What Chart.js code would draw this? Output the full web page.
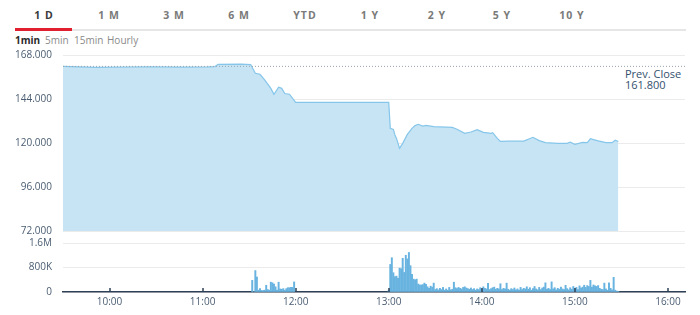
<!DOCTYPE html>
<html>
<head>
<meta charset="utf-8">
<script src="https://cdn.jsdelivr.net/npm/chart.js@4.4.0/dist/chart.umd.min.js"></script>
<style>
    body { margin:0; background:#fff; font-family:"Open Sans", sans-serif; }
    #wrap { position:relative; width:700px; height:315px; overflow:hidden; }
    .tab { position:absolute; top:8px; font-size:10.5px; font-weight:bold; color:#7a7a7a; letter-spacing:1px; transform:translateX(-50%); }
    .tab.on { color:#3a3a3a; }
    .sub { position:absolute; top:33px; font-size:10px; color:#8a8a8a; }
    .sub.on { color:#2a2a2a; font-weight:bold; }
    #tabLine { position:absolute; left:72px; top:29px; width:614px; height:2px; background:#e6e6e6; }
    #tabRed { position:absolute; left:15px; top:28px; width:57px; height:3px; background:#e0202e; }
    #prevLbl { position:absolute; left:625px; top:68px; font-size:11px; line-height:11px; color:#34506e; }
    #priceBox { position:absolute; left:0; top:44px; width:700px; height:196px; }
    #volBox { position:absolute; left:0; top:236px; width:700px; height:79px; }
</style>
</head>
<body>
<div id="wrap">
    <div id="tabLine"></div>
    <div id="tabRed"></div>
    <div id="tabs"></div>
    <span class="sub on" style="left:15px">1min</span>
    <span class="sub" style="left:45px">5min</span>
    <span class="sub" style="left:74px">15min</span>
    <span class="sub" style="left:107px">Hourly</span>
    <div id="prevLbl">Prev. Close<br>161.800</div>
    <div id="priceBox"><canvas id="priceChart"></canvas></div>
    <div id="volBox"><canvas id="volChart"></canvas></div>
</div>
<script>
// rangos del selector
const tabLabels = ['1 D', '1 M', '3 M', '6 M', 'YTD', '1 Y', '2 Y', '5 Y', '10 Y'];
const tabCenters = [44, 109, 174, 239, 305, 370, 437, 502, 572];

// precio intradia (hora, valor)
const priceTimes = ['09:30','09:51','10:26','10:45','11:03','11:08','11:10','11:25','11:31','11:34','11:37','11:40','11:44','11:46','11:49','11:51','11:53','11:56','12:00',
    '13:00','13:01','13:03','13:04','13:05','13:07','13:09','13:12','13:15','13:17','13:19','13:22','13:24','13:29','13:41','13:44','13:49','13:53','13:57',
    '14:01','14:06','14:07','14:10','14:12','14:17','14:27','14:33','14:37','14:41','14:49','14:55','14:57',
    '15:00','15:05','15:08','15:10','15:15','15:20','15:24','15:26','15:28'];
const priceValues = [161.8,161.3,161.6,161.4,161.5,161.7,162.9,163.0,162.8,158.0,157.5,154.4,149.8,146.6,150.4,149.8,147.0,146.6,142.2,
    142.2,128.0,127.4,124.4,122.5,117.1,119.8,124.7,128.0,129.5,130.2,129.2,129.6,128.9,128.5,127.5,125.3,126.0,127.3,
    125.8,125.3,125.6,122.5,120.9,121.0,121.0,123.1,121.3,120.2,119.8,119.8,120.4,
    119.3,120.3,120.2,122.4,121.2,120.2,120.2,121.5,120.8];
const prevClose = 161.8;

// volumen por minuto (miles)
const volAmStart = '11:32';
const volAm = [380,0,700,490,60,110,50,50,60,220,80,60,320,300,260,170,60,320,100,90,110,60,110,140,140,150,150,330];
const volPmStart = '13:00';
const volPm = [60,900,1120,630,500,520,450,780,760,1100,640,1200,1080,1290,860,580,420,400,420,260,
    230,230,240,290,250,170,120,190,160,290,80,110,70,120,80,150,60,100,60,150,
    70,90,320,140,110,150,120,100,150,170,130,110,90,130,80,110,60,100,80,140,
    90,170,120,100,280,80,110,140,160,90,120,100,270,80,120,100,290,90,60,110,
    80,130,70,100,60,150,80,120,100,170,90,140,60,110,180,100,70,150,80,130,
    160,300,90,120,80,330,100,140,70,120,90,160,100,80,220,110,70,140,90,180,
    100,150,80,200,130,160,220,150,210,180,380,160,230,200,180,210,120,90,80,290,
    100,60,300,120,70,480,60,30,20];

// ejes
const xMin = '09:30', xMax = '16:11';
const hourTicks = ['10:00','11:00','12:00','13:00','14:00','15:00','16:00'];
const priceTicks = [168, 144, 120, 96, 72];
const volTicks = [0, 800000, 1600000];

const toMin = t => { const p = t.split(':'); return parseInt(p[0]) * 60 + parseInt(p[1]); };
const fmtTime = v => String(Math.floor(v / 60)).padStart(2, '0') + ':' + String(v % 60).padStart(2, '0');

// tabs
const tabsDiv = document.getElementById('tabs');
tabLabels.forEach((t, i) => {
    const s = document.createElement('span');
    s.className = 'tab' + (i === 0 ? ' on' : '');
    s.style.left = tabCenters[i] + 'px';
    s.innerText = t;
    tabsDiv.appendChild(s);
});

const tickColor = '#4a5d72';
const tickFont = { family: 'Open Sans', size: 10 };
// separacion etiqueta-eje con tick invisible (ticks.padding mueve el area vertical)
const yGrid = { color: '#ebebeb', drawTicks: true, tickLength: 11, tickColor: 'rgba(0,0,0,0)' };

const pricePts = priceTimes.map((t, i) => ({ x: toMin(t), y: priceValues[i] }));
const volPts = [];
volAm.forEach((v, i) => volPts.push({ x: toMin(volAmStart) + i, y: v * 1000 }));
volPm.forEach((v, i) => volPts.push({ x: toMin(volPmStart) + i, y: v * 1000 }));

new Chart(document.getElementById('priceChart'), {
    type: 'line',
    data: {
        datasets: [
            { data: [{ x: toMin(xMin), y: prevClose }, { x: toMin(xMax), y: prevClose }],
              borderColor: '#9aa4ae', borderWidth: 1, borderDash: [1, 2], pointRadius: 0, fill: false, order: 0 },
            { data: pricePts, borderColor: '#86c6ea', backgroundColor: '#c6e4f4', borderWidth: 1.2,
              pointRadius: 0, fill: 'start', tension: 0, order: 1 }
        ]
    },
    options: {
        responsive: true, maintainAspectRatio: false, animation: false,
        layout: { autoPadding: false, padding: { top: 11, bottom: 9, left: 0, right: 15 } },
        plugins: { legend: { display: false }, tooltip: { enabled: false } },
        scales: {
            x: { type: 'linear', display: false, min: toMin(xMin), max: toMin(xMax) },
            y: {
                min: 72, max: 168,
                afterBuildTicks: s => { s.ticks = priceTicks.map(v => ({ value: v })); },
                afterFit: s => { s.width = 63; },
                border: { display: false },
                grid: yGrid,
                ticks: { color: tickColor, font: tickFont, padding: 0, autoSkip: false, callback: v => v.toFixed(3) }
            }
        }
    }
});

const hourMarks = {
    id: 'hourMarks',
    afterDatasetsDraw(chart) {
        const ctx = chart.ctx, xs = chart.scales.x, base = chart.chartArea.bottom;
        ctx.save();
        ctx.strokeStyle = '#2f4156';
        ctx.lineWidth = 1.5;
        hourTicks.forEach(t => {
            const px = Math.round(xs.getPixelForValue(toMin(t)));
            ctx.beginPath();
            ctx.moveTo(px, base);
            ctx.lineTo(px, base - 4);
            ctx.stroke();
        });
        ctx.restore();
    }
};

new Chart(document.getElementById('volChart'), {
    type: 'bar',
    data: { datasets: [{ data: volPts, backgroundColor: '#68b3e0', barThickness: 1.3 }] },
    options: {
        responsive: true, maintainAspectRatio: false, animation: false,
        layout: { autoPadding: false, padding: { top: 7, bottom: 3, left: 0, right: 15 } },
        plugins: { legend: { display: false }, tooltip: { enabled: false } },
        scales: {
            x: {
                type: 'linear', offset: false, min: toMin(xMin), max: toMin(xMax),
                afterBuildTicks: s => { s.ticks = hourTicks.map(t => ({ value: toMin(t) })); },
                border: { display: true, color: '#2f4156', width: 1.5 },
                grid: { display: false, drawTicks: false, offset: false },
                ticks: { color: tickColor, font: tickFont, padding: 4, maxRotation: 0, autoSkip: false, callback: v => fmtTime(v) }
            },
            y: {
                min: 0, max: 1600000,
                afterBuildTicks: s => { s.ticks = volTicks.map(v => ({ value: v })); },
                afterFit: s => { s.width = 63; },
                border: { display: false },
                grid: yGrid,
                ticks: { color: tickColor, font: tickFont, padding: 0, autoSkip: false,
                    callback: v => v === 0 ? '0' : v >= 1000000 ? (v / 1000000) + 'M' : (v / 1000) + 'K' }
            }
        }
    },
    plugins: [hourMarks]
});
</script>
</body>
</html>
